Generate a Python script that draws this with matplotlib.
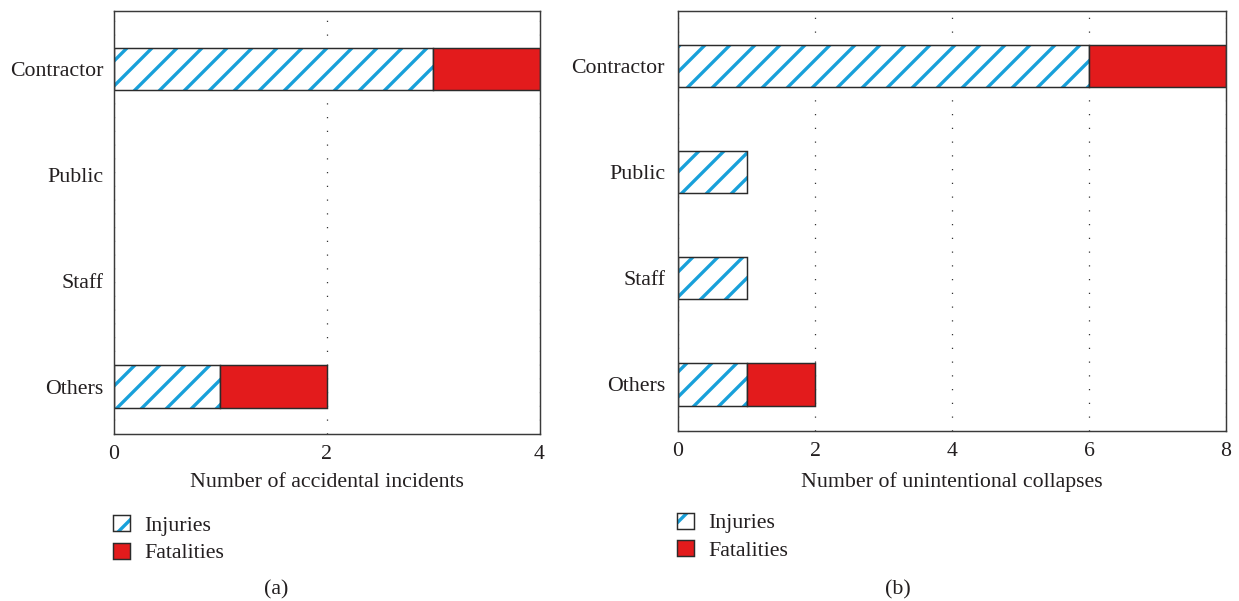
import numpy as np
from matplotlib import pyplot as plt
from matplotlib.patches import Patch
from matplotlib.legend_handler import HandlerTuple

plt.rcParams['font.family'] = ['Liberation Serif', 'DejaVu Serif']
plt.rcParams['hatch.linewidth'] = 1.6

# categories from bottom to top
categories = ['Others', 'Staff', 'Public', 'Contractor']
incident_injuries = [1, 0, 0, 3]
incident_fatalities = [1, 0, 0, 1]
collapse_injuries = [1, 1, 1, 6]
collapse_fatalities = [1, 0, 0, 2]

incident_ticks = [0, 2, 4]
collapse_ticks = [0, 2, 4, 6, 8]

BLUE = '#18a0da'
RED = '#e31b1c'
EDGE = '#2b2b2b'
TEXT = '#231f20'
FS = 10.5

fig = plt.figure(figsize=(1239 / 150, 601 / 150), dpi=150)
W, H = 1239, 601


def px_axes(x0, y0, x1, y1):
    # pixel box (left, top, right, bottom) -> figure fraction
    return fig.add_axes([x0 / W, 1 - y1 / H, (x1 - x0) / W, (y1 - y0) / H])


def draw_panel(ax, injuries, fatalities, ticks, ylim, ypad):
    ypos = np.arange(len(categories))
    inj = np.array(injuries, dtype=float)
    fat = np.array(fatalities, dtype=float)
    h = 0.4
    # hatched injuries, then a plain outline on top of it
    m = inj > 0
    ax.barh(ypos[m], inj[m], height=h, color='white', edgecolor=BLUE,
            hatch='//', linewidth=0, zorder=2)
    ax.barh(ypos[m], inj[m], height=h, fill=False, edgecolor=EDGE,
            linewidth=0.7, zorder=3)
    m = fat > 0
    ax.barh(ypos[m], fat[m], left=inj[m], height=h, color=RED,
            edgecolor=EDGE, linewidth=0.7, zorder=3)

    ax.set_xlim(ticks[0], ticks[-1])
    ax.set_ylim(*ylim)
    ax.set_xticks(ticks)
    ax.set_yticks(ypos)
    ax.set_yticklabels(categories)
    ax.tick_params(length=0, labelsize=FS, colors=TEXT)
    ax.tick_params(axis='x', pad=5.2)
    ax.tick_params(axis='y', pad=ypad)
    ax.xaxis.grid(True, color='#333333', linewidth=0.6,
                  linestyle=(0, (1, 10)), zorder=1)
    ax.set_axisbelow(True)
    for s in ax.spines.values():
        s.set_color('#3a3a3a')
        s.set_linewidth(0.7)
        s.set_zorder(4)


ax1 = px_axes(114, 10.7, 539.5, 434.3)
draw_panel(ax1, incident_injuries, incident_fatalities, incident_ticks,
           (-0.45, 3.55), 5.0)
ax2 = px_axes(678, 11, 1226, 431)
draw_panel(ax2, collapse_injuries, collapse_fatalities, collapse_ticks,
           (-0.44, 3.52), 6.2)

fig.text((114 + 539.5) / 2 / W, 1 - 486.7 / H, 'Number of accidental incidents',
         ha='center', va='baseline', fontsize=FS, color=TEXT)
fig.text((678 + 1226) / 2 / W, 1 - 486.7 / H, 'Number of unintentional collapses',
         ha='center', va='baseline', fontsize=FS, color=TEXT)
fig.text(276 / W, 1 - 594 / H, '(a)', ha='center', va='baseline',
         fontsize=FS, color=TEXT)
fig.text(898 / W, 1 - 594 / H, '(b)', ha='center', va='baseline',
         fontsize=FS, color=TEXT)

inj_handle = (Patch(facecolor='white', edgecolor=BLUE, hatch='//', linewidth=0),
              Patch(fill=False, edgecolor=EDGE, linewidth=0.7))
fat_handle = Patch(facecolor=RED, edgecolor=EDGE, linewidth=0.7)

for x0, y0 in [(113.3, 515), (677.3, 512.5)]:
    fig.legend([inj_handle, fat_handle], ['Injuries', 'Fatalities'],
               handler_map={tuple: HandlerTuple(ndivide=1, pad=0)},
               loc='upper left', bbox_to_anchor=(x0 / W, 1 - y0 / H),
               frameon=False, fontsize=FS, borderpad=0, borderaxespad=0,
               handlelength=0.76, handleheight=0.76, handletextpad=0.65,
               labelspacing=0.32, labelcolor=TEXT)

fig.savefig('out.png', dpi=150)
